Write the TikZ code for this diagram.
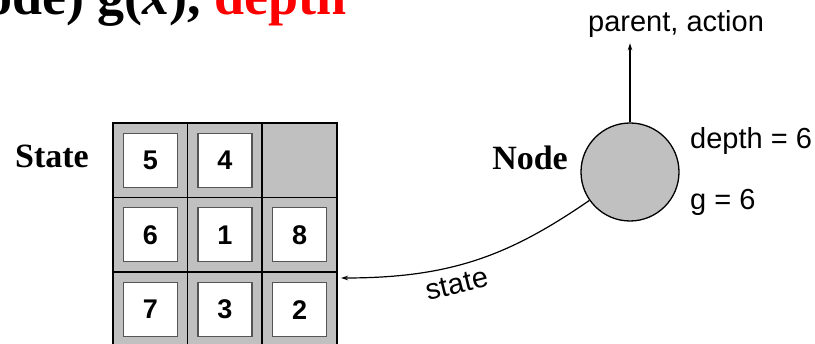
\documentclass[tikz,border=0pt]{standalone}
\usepackage{fontspec}
\setmainfont{Liberation Serif}
\setsansfont{Liberation Sans}
\usetikzlibrary{arrows.meta,calc}

\definecolor{tilegray}{RGB}{192,192,192}
\definecolor{edgegray}{RGB}{85,85,85}

\tikzset{
  cell/.style={draw=black, line width=1.6pt, fill=tilegray, minimum size=74.6pt, inner sep=0pt},
  tile/.style={draw=edgegray, line width=1.2pt, fill=white, minimum size=54pt, inner sep=0pt,
    font=\sffamily\bfseries\fontsize{27}{32}\selectfont},
  sflabel/.style={font=\sffamily\fontsize{29}{35}\selectfont, inner sep=0pt},
  bigbold/.style={font=\rmfamily\bfseries\fontsize{34}{40}\selectfont, inner sep=0pt},
  titletext/.style={font=\rmfamily\bfseries\fontsize{54}{64}\selectfont, inner sep=0pt},
  arr/.style={-{Stealth[length=7pt,width=4.5pt]}, line width=1.2pt}
}

\begin{document}
\begin{tikzpicture}[x=1pt, y=-1pt]
      \useasboundingbox (0,0) rectangle (815,344);
      \clip (0,0) rectangle (815,344);
      \node[titletext, anchor=base east] (title) at (347,15) {(Node) g(\textit{x}), \textcolor{red}{depth}};
      \node[bigbold, anchor=base west] (statetxt) at (15,168) {State};
      \node[cell] (c11) at (150.3, 160.3) {};
      \node[cell] (c12) at (224.9, 160.3) {};
      \node[cell] (c13) at (299.6, 160.3) {};
      \node[cell] (c21) at (150.3, 234.9) {};
      \node[cell] (c22) at (224.9, 234.9) {};
      \node[cell] (c23) at (299.6, 234.9) {};
      \node[cell] (c31) at (150.3, 309.6) {};
      \node[cell] (c32) at (224.9, 309.6) {};
      \node[cell] (c33) at (299.6, 309.6) {};
      \node[tile] (t11) at (c11) {5};
      \node[tile] (t12) at (c12) {4};
      \node[tile] (t21) at (c21) {6};
      \node[tile] (t22) at (c22) {1};
      \node[tile] (t23) at (c23) {8};
      \node[tile] (t31) at (c31) {7};
      \node[tile] (t32) at (c32) {3};
      \node[tile] (t33) at (c33) {2};
      \node[circle, draw, line width=1.3pt, fill=tilegray, minimum size=98pt, inner sep=0pt] (nodecirc) at (630,172) {};
      \node[bigbold, anchor=base east] (nodetxt) at (568,170) {Node};
      \node[sflabel, anchor=base west] (parent) at (588,32) {parent, action};
      \node[sflabel, anchor=base west] (depthtxt) at (690,149) {depth = 6};
      \node[sflabel, anchor=base west] (gtxt) at (690,210) {g = 6};
      \coordinate (statept) at (341,278);
      \draw[arr, shorten >=5pt] (nodecirc.north) -- (nodecirc.north |- parent.south);
      \draw[arr] (nodecirc.215) .. controls ($(nodecirc.215)+(-80,55)$) and ($(statept)+(110,0)$) .. (statept)
        node[sflabel, sloped, below=8pt, pos=0.6] (statelbl) {state};
\end{tikzpicture}
\end{document}
